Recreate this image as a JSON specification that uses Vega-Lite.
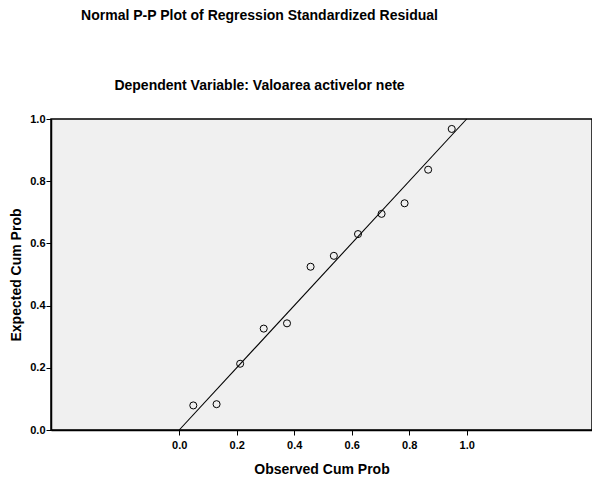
{
  "$schema": "https://vega.github.io/schema/vega-lite/v6.json",
  "width": 541,
  "height": 311,
  "autosize": {"type": "none"},
  "padding": {"left": 51, "top": 119, "right": 0, "bottom": 49},
  "background": "white",
  "title": {
    "text": "Normal P-P Plot of Regression Standardized Residual",
    "subtitle": "Dependent Variable: Valoarea activelor nete",
    "anchor": "middle",
    "dx": -62,
    "offset": 20,
    "font": "Liberation Sans",
    "fontSize": 14,
    "fontWeight": "bold",
    "color": "black",
    "subtitleFont": "Liberation Sans",
    "subtitleFontSize": 14,
    "subtitleFontWeight": "bold",
    "subtitleColor": "black",
    "subtitlePadding": 56
  },
  "config": {
    "font": "Liberation Sans",
    "view": {"fill": "#f0f0f0", "stroke": "#000000", "strokeWidth": 1.5},
    "axis": {
      "domainColor": "#000000",
      "domainWidth": 1.5,
      "tickColor": "#000000",
      "tickSize": 5,
      "labelFont": "Liberation Sans",
      "labelFontSize": 11,
      "labelFontWeight": "bold",
      "labelColor": "#000000",
      "titleFont": "Liberation Sans",
      "titleFontSize": 14,
      "titleFontWeight": "bold",
      "titleColor": "#000000",
      "grid": false
    }
  },
  "datasets": {
    "pts": [
      {"observed": 0.049, "expected": 0.079},
      {"observed": 0.130, "expected": 0.083},
      {"observed": 0.212, "expected": 0.213},
      {"observed": 0.294, "expected": 0.326},
      {"observed": 0.375, "expected": 0.343},
      {"observed": 0.457, "expected": 0.525},
      {"observed": 0.538, "expected": 0.560},
      {"observed": 0.622, "expected": 0.630},
      {"observed": 0.704, "expected": 0.695},
      {"observed": 0.784, "expected": 0.729},
      {"observed": 0.866, "expected": 0.837},
      {"observed": 0.948, "expected": 0.968}
    ],
    "ref": [
      {"observed": 0, "expected": 0},
      {"observed": 1, "expected": 1}
    ]
  },
  "layer": [
    {
      "data": {"name": "ref"},
      "mark": {"type": "line", "color": "#000000", "strokeWidth": 1.1},
      "encoding": {
        "x": {"field": "observed", "type": "quantitative", "scale": {"domain": [-0.446, 1.436], "nice": false, "zero": false},
              "axis": {"values": [0, 0.2, 0.4, 0.6, 0.8, 1.0], "format": ".1f", "title": "Observed Cum Prob", "labelPadding": 4, "titlePadding": 12, "labelFlush": false}},
        "y": {"field": "expected", "type": "quantitative", "scale": {"domain": [0, 1], "nice": false},
              "axis": {"values": [0, 0.2, 0.4, 0.6, 0.8, 1.0], "format": ".1f", "title": "Expected Cum Prob", "labelPadding": 1, "titlePadding": 6, "labelFlush": false}}
      }
    },
    {
      "data": {"name": "pts"},
      "mark": {"type": "point", "shape": "circle", "filled": false, "color": "#000000", "strokeWidth": 1, "size": 50, "opacity": 1},
      "encoding": {
        "x": {"field": "observed", "type": "quantitative"},
        "y": {"field": "expected", "type": "quantitative"}
      }
    }
  ]
}
